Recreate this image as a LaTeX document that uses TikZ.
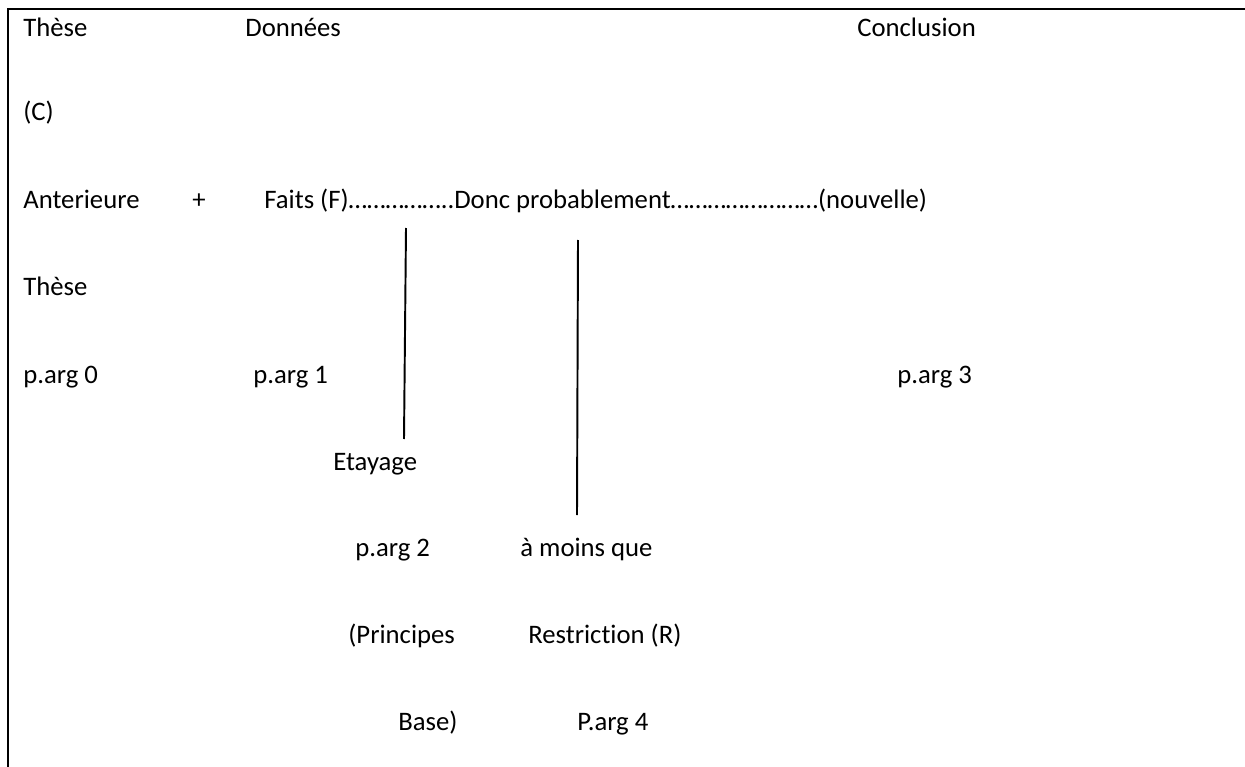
\documentclass[tikz,border=0pt]{standalone}
\usepackage{fontspec}
\setmainfont{Carlito}[Ligatures=NoCommon]
\usetikzlibrary{positioning}
\tikzstyle{txt}=[anchor=base west, inner sep=0pt, font=\fontsize{15.2}{18}\selectfont]
\tikzstyle{rule}=[line width=1.1pt]
\tikzstyle{frame}=[line width=1.5pt]

\begin{document}
\begin{tikzpicture}[x=0.02cm, y=-0.02cm]
	\useasboundingbox (0,0) rectangle (1245,767);
	\draw[frame] (8,767) -- (8,9) -- (1245,9);

	\node[txt] (These1) at (23, 37) {Thèse};
	\node[txt] (Donnees) at (245, 37) {Données};
	\node[txt] (Concl) at (857, 37) {Conclusion};
	\node[txt] (C) at (23, 121) {(C)};
	\node[txt] (Anter) at (23, 209) {Anterieure};
	\node[txt] (Plus) at (192, 209) {+};
	\node[txt] (Faits) at (264, 209) {Faits (F)……………..Donc probablement……………………(nouvelle)};
	\node[txt] (These2) at (23, 296) {Thèse};
	\node[txt] (Parg0) at (23, 383) {p.arg 0};
	\node[txt] (Parg1) at (253, 383) {p.arg 1};
	\node[txt] (Parg3) at (897, 383) {p.arg 3};

	\node[txt] (Etayage) at (333, 470) {Etayage};
	\node[txt] (Parg2) at (355, 556) {p.arg 2};
	\node[txt] (Moins) at (520, 556) {à moins que};
	\node[txt] (Princ) at (348, 643) {(Principes};
	\node[txt] (Restr) at (528, 643) {Restriction (R)};
	\node[txt] (Base) at (398, 730) {Base)};
	\node[txt] (Parg4) at (577, 730) {P.arg 4};

	\coordinate (etaTop) at (406, 228);
	\coordinate (etaBot) at (404, 439);
	\coordinate (resTop) at (578, 240);
	\coordinate (resBot) at (577, 515);
	\draw[rule] (etaTop) -- (etaBot);
	\draw[rule] (resTop) -- (resBot);
\end{tikzpicture}
\end{document}
